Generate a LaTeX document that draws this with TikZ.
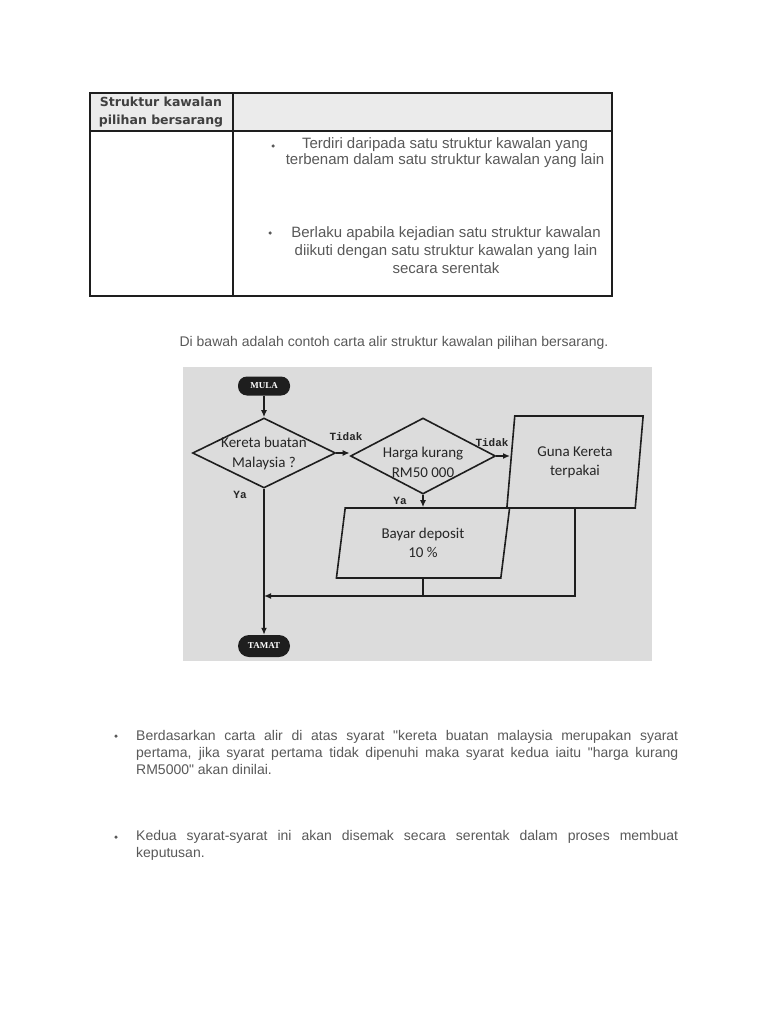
\documentclass[tikz,border=0pt]{standalone}
\usepackage{fontspec}
\setmainfont{Liberation Sans}
\newfontfamily\chartfont{Carlito}
\newfontfamily\labelfont{Liberation Mono}
\newfontfamily\headfont{DejaVu Sans}
\newfontfamily\termfont{Liberation Serif}
\usetikzlibrary{shapes,arrows.meta,positioning,calc}
\definecolor{textgray}{HTML}{595959}
\definecolor{headtext}{HTML}{404040}
\definecolor{headgray}{HTML}{EBEBEB}
\definecolor{photogray}{HTML}{DCDCDC}
\definecolor{inkdark}{HTML}{1E1E1E}
\tikzstyle{decision} = [diamond, draw=inkdark, line width=1.6pt, inner sep=0pt]
\tikzstyle{chartlabel} = [inner sep=0pt, align=center, text=black!85,
    font=\chartfont\fontsize{15}{20}\selectfont]
\tikzstyle{io} = [trapezium, trapezium left angle=81, trapezium right angle=99,
    trapezium stretches=true, draw=inkdark, line width=1.6pt, inner sep=0pt,
    align=center, text=black!85, font=\chartfont\fontsize{15}{19}\selectfont]
\tikzstyle{terminal} = [rectangle, rounded corners=9pt, fill=inkdark, text=white,
    minimum width=52pt, minimum height=19pt, inner sep=0pt,
    font=\termfont\bfseries\fontsize{9}{9}\selectfont]
\tikzstyle{arrow} = [-{Latex[length=7pt,width=6pt]}, line width=1.6pt, inkdark]
\tikzstyle{flowline} = [line width=1.6pt, inkdark]
\tikzstyle{yesno} = [inner sep=0pt, text=black!85, font=\labelfont\bfseries\fontsize{11}{11}\selectfont]
\tikzstyle{bodytext} = [inner sep=0pt, text=textgray, font=\fontsize{14}{16}\selectfont]
\tikzstyle{dot} = [circle, fill=textgray, inner sep=0pt, minimum size=3.5pt]

\begin{document}
\begin{tikzpicture}[x=1pt, y=-1pt]
\useasboundingbox (0,0) rectangle (768,1024);
\fill[white] (0,0) rectangle (768,1024);

% table
\fill[headgray] (90,93) rectangle (612,131);
\draw[inkdark, line width=1.1pt] (90,93) rectangle (612,296);
\draw[inkdark, line width=1.1pt] (90,131) -- (612,131);
\draw[inkdark, line width=1.1pt] (233,93) -- (233,296);
\node[inner sep=0pt, align=center, text=headtext, font=\headfont\bfseries\fontsize{12.5}{18}\selectfont]
    (head) at (161,112) {Struktur kawalan\\pilihan bersarang};
\node[dot] (b1) at (273,146) {};
\node[bodytext, align=center, font=\fontsize{15}{16}\selectfont] (row1) at (445,153) {Terdiri daripada satu struktur kawalan yang\\terbenam dalam satu struktur kawalan yang lain};
\node[dot] (b2) at (270,233) {};
\node[bodytext, align=center, font=\fontsize{15}{18}\selectfont] (row2) at (446,250) {Berlaku apabila kejadian satu struktur kawalan\\diikuti dengan satu struktur kawalan yang lain\\secara serentak};

\node[bodytext] (caption) at (394,343) {Di bawah adalah contoh carta alir struktur kawalan pilihan bersarang.};

% flow chart photo
\fill[photogray] (183,367) rectangle (652,661);
\node[terminal] (mula) at (264,386) {MULA};
\node[decision, minimum width=143pt, minimum height=70pt] (q1) at (264,453) {};
\node[chartlabel] at (q1.center) {Kereta buatan\\Malaysia ?};
\node[decision, minimum width=145pt, minimum height=76pt] (q2) at (423,456) {};
\node[chartlabel] at ([yshift=-6pt]q2.center) {Harga kurang\\RM50 000};
\node[io, minimum width=137pt, minimum height=92pt] (guna) at (575,462) {Guna Kereta\\terpakai};
\node[io, minimum width=174pt, minimum height=70pt] (bayar) at (423,543) {Bayar deposit\\10 \%};
\node[terminal, minimum height=22pt, rounded corners=11pt] (tamat) at (264,646) {TAMAT};
\coordinate (jn) at (264,596);

\node[yesno] (t1) at (346,437) {Tidak};
\node[yesno] (t2) at (492,443) {Tidak};
\node[yesno] (y1) at (240,495) {Ya};
\node[yesno] (y2) at (400,501) {Ya};

\draw[arrow] (mula) -- (q1);
\draw[arrow] (q1.east) -- (q1.east -| q2.west);
\draw[arrow] (q2.east) -- (q2.east -| guna.west);
\draw[arrow] (q2.south) -- (bayar.north);
\draw[arrow] (q1.south) -- (tamat.north);
\draw[flowline] (bayar.south) -- (bayar.south |- jn);
\draw[arrow] (guna.south) -- (guna.south |- jn) -- (jn);

% notes below
\node[dot] (b3) at (116,736) {};
\node[bodytext, anchor=north west, align=left, font=\fontsize{14}{17}\selectfont] (note1) at (136,730)
    {\makebox[542pt][s]{Berdasarkan carta alir di atas syarat \textquotedbl kereta buatan malaysia merupakan syarat}\\
     \makebox[542pt][s]{pertama, jika syarat pertama tidak dipenuhi maka syarat kedua iaitu \textquotedbl harga kurang}\\
     RM5000\textquotedbl\ akan dinilai.};
\node[dot] (b4) at (116,837) {};
\node[bodytext, anchor=north west, align=left, font=\fontsize{14}{17}\selectfont] (note2) at (136,830)
    {\makebox[542pt][s]{Kedua syarat-syarat ini akan disemak secara serentak dalam proses membuat}\\
     keputusan.};
\end{tikzpicture}
\end{document}
